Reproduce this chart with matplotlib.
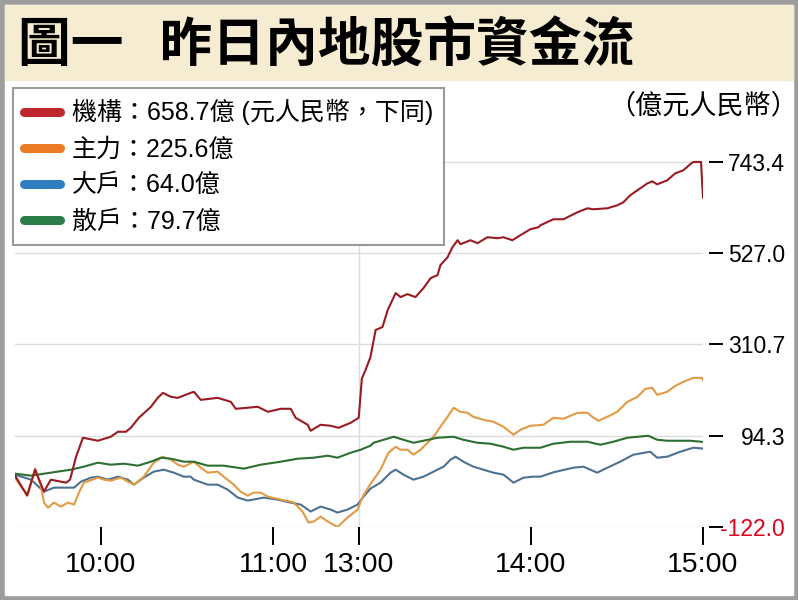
import matplotlib
matplotlib.use("Agg")
import matplotlib.pyplot as plt
from matplotlib.lines import Line2D
from matplotlib.patches import Rectangle

plt.rcParams['font.family'] = ['Liberation Sans', 'Noto Sans CJK TC', 'DejaVu Sans']

# trading minutes since 9:30 (11:30 and 13:00 share minute 120)
red_t = [0, 4.2, 7.0, 10.1, 12.5, 17.8, 19.2, 21.3, 23.7, 28.9, 33.4, 35.9, 38.7, 40.4, 43.2,
         47.4, 49.8, 51.6, 54.4, 56.8, 61.3, 62.4, 64.8, 70.7, 75.3, 77.0, 84.7, 88.2, 92.7,
         96.2, 97.9, 102.1, 103.1, 106.6, 110.1, 112.9, 117.1, 119.9, 121.0, 122.3, 124.0,
         125.8, 128.2, 130.0, 132.8, 134.5, 136.9, 139.7, 142.5, 145.0, 147.4, 148.4, 150.9,
         152.6, 154.4, 155.4, 158.9, 161.3, 164.8, 168.3, 170.4, 173.5, 176.3, 179.8, 182.6,
         183.3, 187.8, 191.3, 196.2, 199.7, 201.7, 206.6, 210.1, 212.2, 214.6, 218.1, 220.6,
         222.3, 224.0, 227.5, 230.3, 233.1, 235.5, 236.6, 239.3, 240]
red_v = [0, -47.6, 13.9, -38.1, -9.8, -16.9, -9.8, 44.6, 89.6, 82.5, 91.9, 103.8, 103.8, 113.2,
         136.9, 162.9, 184.2, 196.0, 186.5, 184.2, 196.0, 198.4, 179.4, 184.2, 174.7, 158.2,
         162.9, 151.1, 158.2, 158.2, 136.9, 120.3, 106.1, 120.3, 118.0, 113.2, 125.0, 136.9,
         230.0, 250.4, 281.1, 345.0, 352.1, 392.3, 432.5, 423.0, 430.1, 423.0, 444.3, 468.0,
         475.1, 498.7, 517.6, 541.3, 557.8, 548.4, 557.8, 550.7, 564.9, 562.6, 564.9, 557.8,
         569.7, 584.0, 588.6, 593.3, 607.5, 607.5, 624.1, 633.5, 631.2, 633.5, 640.6, 647.7,
         664.3, 680.8, 692.6, 697.4, 690.3, 699.7, 716.3, 723.4, 737.6, 743.4, 743.4, 658.7]

orange_t = [0, 2.1, 4.5, 7.0, 9.1, 10.1, 11.5, 13.6, 16.0, 18.5, 20.6, 22.3, 24.0, 28.9, 31.0,
            33.4, 36.9, 39.4, 41.5, 44.9, 48.4, 51.6, 54.4, 56.8, 58.9, 62.4, 64.8, 67.2, 70.7,
            72.8, 76.3, 78.7, 81.2, 83.3, 85.7, 88.2, 92.7, 96.2, 97.2, 100.3, 102.4, 104.2,
            106.6, 109.1, 112.5, 116.0, 119.5, 121.3, 124.0, 125.1, 127.5, 130.3, 132.8, 134.5,
            136.9, 139.0, 141.5, 143.9, 146.0, 148.4, 150.9, 153.0, 155.4, 157.8, 159.9, 163.4,
            166.9, 170.4, 173.9, 176.3, 179.8, 184.3, 187.8, 191.3, 196.2, 199.7, 201.4, 203.5,
            206.6, 210.1, 213.6, 217.1, 219.9, 222.3, 224.0, 227.5, 230.3, 233.1, 236.6, 239.7, 240]
orange_v = [-5, -26.3, -45.2, 16.3, -26.3, -64.2, -76.0, -64.2, -73.6, -64.2, -68.9, -40.5,
            -16.9, -5.0, -9.8, -12.1, -5.0, -14.5, -21.6, -2.7, 30.4, 44.6, 37.5, 25.7, 21.0,
            32.8, 18.6, 6.8, 9.2, -2.7, -21.6, -38.1, -47.6, -40.5, -40.5, -50.0, -57.1, -62.0,
            -64.2, -85.4, -111.5, -109.1, -97.3, -109.1, -122.0, -99.6, -80.7, -50.0, -20.0,
            -9.8, 13.9, 54.1, 68.3, 61.2, 61.2, 49.4, 61.2, 77.7, 91.9, 115.6, 139.2, 160.5,
            151.1, 148.7, 139.2, 132.1, 127.4, 115.6, 96.7, 108.5, 118.0, 120.3, 136.9, 134.5,
            148.7, 148.7, 139.2, 129.8, 139.2, 151.1, 174.7, 186.5, 205.5, 207.8, 191.3, 198.4,
            212.6, 222.0, 231.5, 231.5, 225.6]

blue_t = [0, 5.6, 10.1, 13.6, 17.1, 20.6, 23.0, 26.5, 28.9, 32.4, 35.9, 39.4, 41.5, 44.9, 48.4,
          51.9, 55.4, 58.9, 61.3, 62.4, 67.2, 70.7, 74.2, 77.7, 81.2, 86.8, 91.6, 96.2, 99.7,
          103.1, 106.6, 110.1, 112.5, 116.0, 119.5, 121.6, 124.0, 127.5, 131.0, 132.8, 135.5,
          139.0, 142.5, 146.0, 149.5, 151.9, 153.7, 156.4, 159.9, 163.4, 166.9, 170.4, 173.9,
          177.4, 180.8, 183.3, 188.0, 194.8, 198.3, 203.1, 205.2, 211.1, 215.7, 221.6, 224.0,
          227.5, 232.1, 236.6, 240]
blue_v = [2, -9.8, -38.1, -28.7, -28.7, -28.7, -14.5, -5.0, -2.7, -9.8, -2.7, -9.8, -21.6, -5.0,
          9.2, 13.9, 6.8, -2.7, -2.7, -9.8, -21.6, -21.6, -33.4, -52.3, -59.4, -52.3, -57.1,
          -64.2, -68.9, -85.4, -73.6, -80.7, -87.8, -80.7, -68.9, -50.0, -31.0, -16.9, 6.8,
          13.9, 2.1, -9.8, -2.7, 9.2, 21.0, 37.5, 44.6, 32.8, 21.0, 13.9, 6.8, 2.1, -16.9, -5.0,
          -2.7, -2.7, 8.0, 18.6, 21.0, 6.8, 13.9, 32.8, 49.4, 56.5, 42.3, 44.6, 56.5, 65.9, 64.0]

green_t = [0, 5.6, 12.5, 19.5, 24.0, 28.9, 33.4, 38.0, 42.9, 47.4, 50.9, 54.4, 58.9, 62.4, 67.2,
           72.8, 79.8, 85.7, 92.7, 98.6, 104.2, 109.1, 112.5, 117.1, 120.6, 124.0, 125.1, 128.6,
           132.1, 135.5, 139.0, 142.5, 147.4, 153.0, 156.4, 161.3, 165.9, 170.4, 173.9, 177.4,
           183.3, 187.8, 193.7, 199.7, 204.2, 208.7, 213.6, 217.1, 220.9, 224.0, 227.5, 231.0,
           235.5, 240]
green_v = [4.4, -0.3, 6.8, 13.9, 21.0, 30.4, 25.7, 28.1, 23.4, 32.8, 42.3, 39.9, 32.8, 32.8,
           23.4, 23.4, 16.3, 25.7, 32.8, 39.9, 42.3, 47.0, 42.3, 54.1, 61.2, 70.7, 77.7, 84.8,
           91.9, 84.8, 77.7, 82.5, 89.6, 91.9, 84.8, 77.7, 75.4, 68.3, 61.2, 65.9, 65.9, 75.4,
           80.1, 80.1, 73.0, 80.1, 89.6, 91.9, 94.3, 84.8, 82.5, 82.5, 82.5, 79.7]

y_ticks = [-122.0, 94.3, 310.7, 527.0, 743.4]
x_ticks = [30, 90, 120, 180, 240]
x_labels = ['10:00', '11:00', '13:00', '14:00', '15:00']

names = ['機構：658.7億 (元人民幣，下同)', '主力：225.6億', '大戶：64.0億', '散戶：79.7億']
line_colors = ['#9b1b22', '#e39a45', '#4d7192', '#2e6e32']
legend_colors = ['#c0272d', '#ec7a25', '#2f7fc0', '#2a7d46']

W, H = 798, 600
fig = plt.figure(figsize=(W / 100, H / 100), dpi=100, facecolor='#9d9d9d')

# page background, title band
fig.patches.append(Rectangle((5 / W, 5 / H), 1 - 10 / W, 1 - 10 / H,
                             transform=fig.transFigure, color='white', zorder=-10))
fig.patches.append(Rectangle((5 / W, 1 - 80 / H), 1 - 10 / W, 75 / H,
                             transform=fig.transFigure, color='#f5ecd1', zorder=-9))
fig.text(18 / W, 1 - 46 / H, '圖一   昨日內地股市資金流', fontsize=38, fontweight='heavy',
         va='center', ha='left', family=['Noto Sans CJK TC'])
fig.text(798 / W, 1 - 106 / H, '（億元人民幣）', fontsize=19.5, va='center', ha='right',
         family=['Noto Sans CJK TC'])

ax = fig.add_axes([15 / W, 1 - 527 / H, (703 - 15) / W, (527 - 140) / H])
ax.set_facecolor('white')
ax.set_xlim(0, 240)
ax.set_ylim(-122, 795.4)

ax.plot(red_t, red_v, color=line_colors[0], lw=1.5, zorder=5)
ax.plot(orange_t, orange_v, color=line_colors[1], lw=1.5, zorder=4)
ax.plot(blue_t, blue_v, color=line_colors[2], lw=1.5, zorder=3)
ax.plot(green_t, green_v, color=line_colors[3], lw=1.5, zorder=4)

for s in ax.spines.values():
    s.set_visible(False)
ax.spines['right'].set_position(('outward', 4))

ax.yaxis.tick_right()
ax.set_yticks(y_ticks)
ax.set_yticklabels([f'{v:.1f}' for v in y_ticks])
ax.tick_params(axis='y', length=10, width=1.4, pad=45, labelsize=16.5)
for lbl in ax.get_yticklabels():
    lbl.set_ha('right')
ax.get_yticklabels()[0].set_color('#e0001b')
ax.yaxis.grid(True, color='#dcdcdc', lw=1)
ax.axvline(120, color='#dcdcdc', lw=1, zorder=1)

ax.set_xticks(x_ticks)
ax.set_xticklabels(x_labels)
ax.tick_params(axis='x', length=13, width=1.4, pad=5, labelsize=20.5)

handles = [Line2D([], [], color=c, lw=6.5, solid_capstyle='round') for c in legend_colors]
leg = ax.legend(handles, names, loc='upper left', bbox_to_anchor=(13 / W, 1 - 88 / H),
                bbox_transform=fig.transFigure, borderaxespad=0, fontsize=18,
                handlelength=1.45, handletextpad=0.45, labelspacing=0.48,
                fancybox=False, framealpha=1, edgecolor='#9a9a9a', borderpad=0.45)
leg.get_frame().set_linewidth(1.5)
leg.set_zorder(10)

fig.savefig('out.png', dpi=100, facecolor=fig.get_facecolor())
